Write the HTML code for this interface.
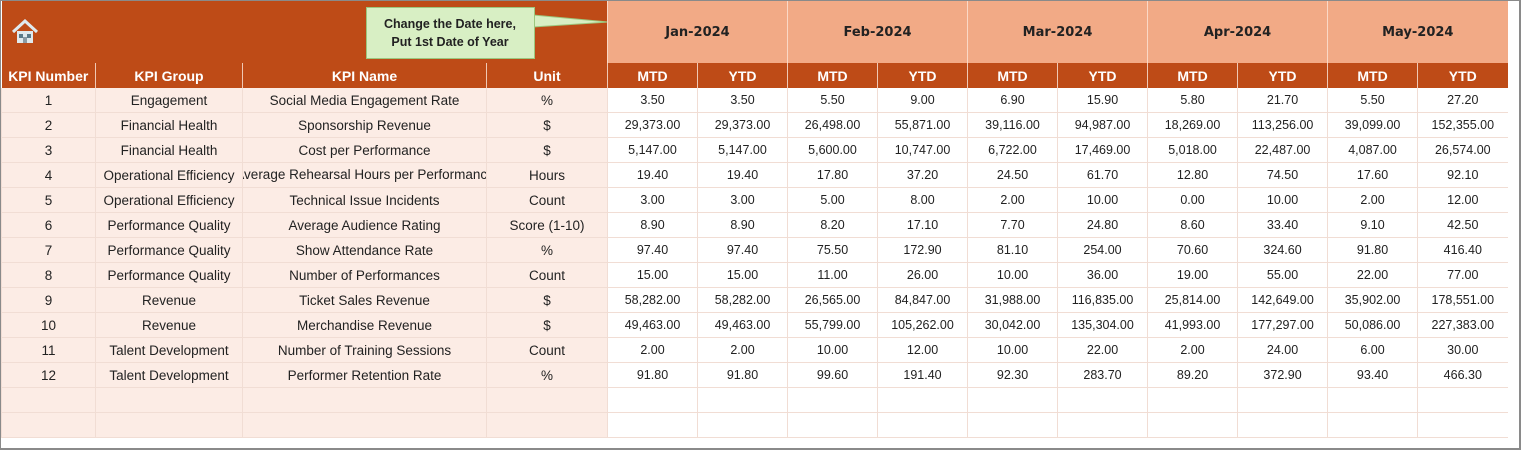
<!DOCTYPE html>
<html><head><meta charset="utf-8"><style>
body{margin:0;width:1524px;height:453px;background:#fff;overflow:hidden;font-family:"Liberation Sans",sans-serif;position:relative}
.frame{position:absolute;left:0;top:0;width:1521px;height:450px;border:1px solid #8a8a8a;border-right:2px solid #8a8a8a;border-bottom:2px solid #8a8a8a;box-sizing:border-box}
table{position:absolute;left:1px;top:1px;border-collapse:collapse;table-layout:fixed;width:1506px}
td{padding:0;text-align:center;font-size:13px;color:#222;white-space:nowrap;overflow:hidden}
.top td.dark{background:#BE4B17}
.top td.mon{background:#F2AA86;font-family:"DejaVu Sans",sans-serif;font-weight:bold;font-size:13px;color:#222;border-left:1px solid #fbd8c6}
.hdr td{background:#BE4B17;color:#fff;font-weight:bold;font-size:14px;border-left:1px solid #f0c8b4}
.d td{height:24px;border-bottom:1px solid #f1ddd4;border-left:1px solid #f1ddd4}
.d td.p{background:#FCECE5;font-size:13.5px}
.d td.n{background:#fff;font-size:12.5px}
</style></head><body>
<div class="frame"></div>
<table>
<colgroup><col style="width:94px"><col style="width:147px"><col style="width:244px"><col style="width:121px">
<col style="width:90px"><col style="width:90px"><col style="width:90px"><col style="width:90px"><col style="width:90px"><col style="width:90px"><col style="width:90px"><col style="width:90px"><col style="width:90px"><col style="width:90px"></colgroup>
<tr class="top" style="height:62px"><td class="dark" colspan="4" style="position:relative;text-align:left">
<svg style="position:absolute;left:9px;top:18px" width="28" height="26" viewBox="0 0 28 26"><path d="M2 13 L14 2 L26 13" fill="none" stroke="#dfe9ee" stroke-width="3"/><rect x="6" y="12" width="16" height="12" fill="#dfe9ee"/><rect x="8" y="15" width="4" height="4" fill="#5a7a8a"/><rect x="16" y="15" width="4" height="4" fill="#5a7a8a"/><rect x="12" y="18" width="4" height="6" fill="#8a9aa4"/></svg>
<div style="position:absolute;left:364px;top:6px;width:169px;height:52px;background:#D8EFC4;border:1px solid #9cc77e;box-sizing:border-box;text-align:center;font-weight:bold;font-size:12.5px;line-height:18px;padding-top:7px;color:#222;z-index:2">Change the Date here,<br>Put 1st Date of Year</div>
<svg style="position:absolute;left:531px;top:12px;z-index:1" width="80" height="20"><polygon points="0,2 75,9 0,14" fill="#D8EFC4" stroke="#9cc77e"/></svg>
</td>
<td class="mon" colspan="2">Jan-2024</td><td class="mon" colspan="2">Feb-2024</td><td class="mon" colspan="2">Mar-2024</td><td class="mon" colspan="2">Apr-2024</td><td class="mon" colspan="2">May-2024</td></tr>
<tr class="hdr" style="height:25px"><td style="border-left:none">KPI Number</td><td>KPI Group</td><td>KPI Name</td><td>Unit</td><td>MTD</td><td>YTD</td><td>MTD</td><td>YTD</td><td>MTD</td><td>YTD</td><td>MTD</td><td>YTD</td><td>MTD</td><td>YTD</td></tr>
<tr class="d"><td class="p">1</td><td class="p">Engagement</td><td class="p">Social Media Engagement Rate</td><td class="p">%</td><td class="n">3.50</td><td class="n">3.50</td><td class="n">5.50</td><td class="n">9.00</td><td class="n">6.90</td><td class="n">15.90</td><td class="n">5.80</td><td class="n">21.70</td><td class="n">5.50</td><td class="n">27.20</td></tr>
<tr class="d"><td class="p">2</td><td class="p">Financial Health</td><td class="p">Sponsorship Revenue</td><td class="p">$</td><td class="n">29,373.00</td><td class="n">29,373.00</td><td class="n">26,498.00</td><td class="n">55,871.00</td><td class="n">39,116.00</td><td class="n">94,987.00</td><td class="n">18,269.00</td><td class="n">113,256.00</td><td class="n">39,099.00</td><td class="n">152,355.00</td></tr>
<tr class="d"><td class="p">3</td><td class="p">Financial Health</td><td class="p">Cost per Performance</td><td class="p">$</td><td class="n">5,147.00</td><td class="n">5,147.00</td><td class="n">5,600.00</td><td class="n">10,747.00</td><td class="n">6,722.00</td><td class="n">17,469.00</td><td class="n">5,018.00</td><td class="n">22,487.00</td><td class="n">4,087.00</td><td class="n">26,574.00</td></tr>
<tr class="d"><td class="p">4</td><td class="p">Operational Efficiency</td><td class="p" style="position:relative"><div style="position:absolute;left:-30px;top:0;width:304px;line-height:24px;text-align:center">Average Rehearsal Hours per Performance</div></td><td class="p">Hours</td><td class="n">19.40</td><td class="n">19.40</td><td class="n">17.80</td><td class="n">37.20</td><td class="n">24.50</td><td class="n">61.70</td><td class="n">12.80</td><td class="n">74.50</td><td class="n">17.60</td><td class="n">92.10</td></tr>
<tr class="d"><td class="p">5</td><td class="p">Operational Efficiency</td><td class="p">Technical Issue Incidents</td><td class="p">Count</td><td class="n">3.00</td><td class="n">3.00</td><td class="n">5.00</td><td class="n">8.00</td><td class="n">2.00</td><td class="n">10.00</td><td class="n">0.00</td><td class="n">10.00</td><td class="n">2.00</td><td class="n">12.00</td></tr>
<tr class="d"><td class="p">6</td><td class="p">Performance Quality</td><td class="p">Average Audience Rating</td><td class="p">Score (1-10)</td><td class="n">8.90</td><td class="n">8.90</td><td class="n">8.20</td><td class="n">17.10</td><td class="n">7.70</td><td class="n">24.80</td><td class="n">8.60</td><td class="n">33.40</td><td class="n">9.10</td><td class="n">42.50</td></tr>
<tr class="d"><td class="p">7</td><td class="p">Performance Quality</td><td class="p">Show Attendance Rate</td><td class="p">%</td><td class="n">97.40</td><td class="n">97.40</td><td class="n">75.50</td><td class="n">172.90</td><td class="n">81.10</td><td class="n">254.00</td><td class="n">70.60</td><td class="n">324.60</td><td class="n">91.80</td><td class="n">416.40</td></tr>
<tr class="d"><td class="p">8</td><td class="p">Performance Quality</td><td class="p">Number of Performances</td><td class="p">Count</td><td class="n">15.00</td><td class="n">15.00</td><td class="n">11.00</td><td class="n">26.00</td><td class="n">10.00</td><td class="n">36.00</td><td class="n">19.00</td><td class="n">55.00</td><td class="n">22.00</td><td class="n">77.00</td></tr>
<tr class="d"><td class="p">9</td><td class="p">Revenue</td><td class="p">Ticket Sales Revenue</td><td class="p">$</td><td class="n">58,282.00</td><td class="n">58,282.00</td><td class="n">26,565.00</td><td class="n">84,847.00</td><td class="n">31,988.00</td><td class="n">116,835.00</td><td class="n">25,814.00</td><td class="n">142,649.00</td><td class="n">35,902.00</td><td class="n">178,551.00</td></tr>
<tr class="d"><td class="p">10</td><td class="p">Revenue</td><td class="p">Merchandise Revenue</td><td class="p">$</td><td class="n">49,463.00</td><td class="n">49,463.00</td><td class="n">55,799.00</td><td class="n">105,262.00</td><td class="n">30,042.00</td><td class="n">135,304.00</td><td class="n">41,993.00</td><td class="n">177,297.00</td><td class="n">50,086.00</td><td class="n">227,383.00</td></tr>
<tr class="d"><td class="p">11</td><td class="p">Talent Development</td><td class="p">Number of Training Sessions</td><td class="p">Count</td><td class="n">2.00</td><td class="n">2.00</td><td class="n">10.00</td><td class="n">12.00</td><td class="n">10.00</td><td class="n">22.00</td><td class="n">2.00</td><td class="n">24.00</td><td class="n">6.00</td><td class="n">30.00</td></tr>
<tr class="d"><td class="p">12</td><td class="p">Talent Development</td><td class="p">Performer Retention Rate</td><td class="p">%</td><td class="n">91.80</td><td class="n">91.80</td><td class="n">99.60</td><td class="n">191.40</td><td class="n">92.30</td><td class="n">283.70</td><td class="n">89.20</td><td class="n">372.90</td><td class="n">93.40</td><td class="n">466.30</td></tr>
<tr class="d"><td class="p"></td><td class="p"></td><td class="p"></td><td class="p"></td><td class="n"></td><td class="n"></td><td class="n"></td><td class="n"></td><td class="n"></td><td class="n"></td><td class="n"></td><td class="n"></td><td class="n"></td><td class="n"></td></tr>
<tr class="d"><td class="p"></td><td class="p"></td><td class="p"></td><td class="p"></td><td class="n"></td><td class="n"></td><td class="n"></td><td class="n"></td><td class="n"></td><td class="n"></td><td class="n"></td><td class="n"></td><td class="n"></td><td class="n"></td></tr>
</table>
</body></html>
